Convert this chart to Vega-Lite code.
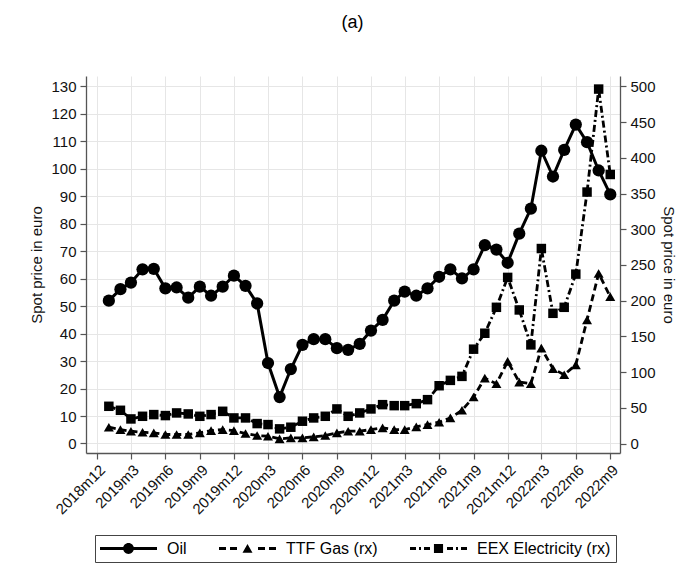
{
  "$schema": "https://vega.github.io/schema/vega-lite/v6.json",
  "width": 534,
  "height": 377,
  "padding": {"left": 29, "top": 14, "right": 1, "bottom": 5},
  "background": "white",
  "title": {"text": "(a)", "fontSize": 18, "fontWeight": "normal", "font": "Liberation Sans", "color": "black", "anchor": "middle", "frame": "bounds", "offset": 44},
  "config": {
    "view": {"stroke": null},
    "font": "Liberation Sans",
    "axis": {
      "labelFont": "Liberation Sans", "labelFontSize": 15, "labelColor": "#111",
      "titleFont": "Liberation Sans", "titleFontSize": 15, "titleFontWeight": "normal", "titleColor": "#111",
      "domainColor": "#555", "domainWidth": 1.3, "tickColor": "#555", "tickWidth": 1.2, "tickSize": 6, "labelPadding": 4,
      "gridColor": "#e6e6e6", "gridWidth": 1
    }
  },
  "data": {"values": [
    {"date":"2019-01-01","series":"Oil","price":52.0},{"date":"2019-02-01","series":"Oil","price":56.2},{"date":"2019-03-01","series":"Oil","price":58.6},{"date":"2019-04-01","series":"Oil","price":63.4},{"date":"2019-05-01","series":"Oil","price":63.6},{"date":"2019-06-01","series":"Oil","price":56.5},{"date":"2019-07-01","series":"Oil","price":56.8},{"date":"2019-08-01","series":"Oil","price":53.1},{"date":"2019-09-01","series":"Oil","price":57.1},{"date":"2019-10-01","series":"Oil","price":53.8},{"date":"2019-11-01","series":"Oil","price":57.1},{"date":"2019-12-01","series":"Oil","price":61.1},
    {"date":"2020-01-01","series":"Oil","price":57.4},{"date":"2020-02-01","series":"Oil","price":51.0},{"date":"2020-03-01","series":"Oil","price":29.3},{"date":"2020-04-01","series":"Oil","price":16.9},{"date":"2020-05-01","series":"Oil","price":27.1},{"date":"2020-06-01","series":"Oil","price":35.9},{"date":"2020-07-01","series":"Oil","price":38.0},{"date":"2020-08-01","series":"Oil","price":38.0},{"date":"2020-09-01","series":"Oil","price":34.7},{"date":"2020-10-01","series":"Oil","price":34.1},{"date":"2020-11-01","series":"Oil","price":36.3},{"date":"2020-12-01","series":"Oil","price":41.1},
    {"date":"2021-01-01","series":"Oil","price":45.0},{"date":"2021-02-01","series":"Oil","price":52.0},{"date":"2021-03-01","series":"Oil","price":55.3},{"date":"2021-04-01","series":"Oil","price":53.8},{"date":"2021-05-01","series":"Oil","price":56.5},{"date":"2021-06-01","series":"Oil","price":60.7},{"date":"2021-07-01","series":"Oil","price":63.4},{"date":"2021-08-01","series":"Oil","price":60.1},{"date":"2021-09-01","series":"Oil","price":63.4},{"date":"2021-10-01","series":"Oil","price":72.2},{"date":"2021-11-01","series":"Oil","price":70.6},{"date":"2021-12-01","series":"Oil","price":65.8},
    {"date":"2022-01-01","series":"Oil","price":76.4},{"date":"2022-02-01","series":"Oil","price":85.5},{"date":"2022-03-01","series":"Oil","price":106.6},{"date":"2022-04-01","series":"Oil","price":97.2},{"date":"2022-05-01","series":"Oil","price":106.9},{"date":"2022-06-01","series":"Oil","price":116.1},{"date":"2022-07-01","series":"Oil","price":109.7},{"date":"2022-08-01","series":"Oil","price":99.4},{"date":"2022-09-01","series":"Oil","price":90.7},
    {"date":"2019-01-01","series":"TTF Gas (rx)","price":22.8},{"date":"2019-02-01","series":"TTF Gas (rx)","price":19.5},{"date":"2019-03-01","series":"TTF Gas (rx)","price":17.2},{"date":"2019-04-01","series":"TTF Gas (rx)","price":15.8},{"date":"2019-05-01","series":"TTF Gas (rx)","price":14.9},{"date":"2019-06-01","series":"TTF Gas (rx)","price":12.6},{"date":"2019-07-01","series":"TTF Gas (rx)","price":12.6},{"date":"2019-08-01","series":"TTF Gas (rx)","price":12.6},{"date":"2019-09-01","series":"TTF Gas (rx)","price":14.9},{"date":"2019-10-01","series":"TTF Gas (rx)","price":18.1},{"date":"2019-11-01","series":"TTF Gas (rx)","price":19.5},{"date":"2019-12-01","series":"TTF Gas (rx)","price":18.1},
    {"date":"2020-01-01","series":"TTF Gas (rx)","price":14.0},{"date":"2020-02-01","series":"TTF Gas (rx)","price":11.2},{"date":"2020-03-01","series":"TTF Gas (rx)","price":10.2},{"date":"2020-04-01","series":"TTF Gas (rx)","price":6.5},{"date":"2020-05-01","series":"TTF Gas (rx)","price":7.9},{"date":"2020-06-01","series":"TTF Gas (rx)","price":7.9},{"date":"2020-07-01","series":"TTF Gas (rx)","price":9.3},{"date":"2020-08-01","series":"TTF Gas (rx)","price":11.2},{"date":"2020-09-01","series":"TTF Gas (rx)","price":14.9},{"date":"2020-10-01","series":"TTF Gas (rx)","price":17.2},{"date":"2020-11-01","series":"TTF Gas (rx)","price":17.2},{"date":"2020-12-01","series":"TTF Gas (rx)","price":19.5},
    {"date":"2021-01-01","series":"TTF Gas (rx)","price":21.9},{"date":"2021-02-01","series":"TTF Gas (rx)","price":19.5},{"date":"2021-03-01","series":"TTF Gas (rx)","price":19.5},{"date":"2021-04-01","series":"TTF Gas (rx)","price":23.3},{"date":"2021-05-01","series":"TTF Gas (rx)","price":26.5},{"date":"2021-06-01","series":"TTF Gas (rx)","price":29.8},{"date":"2021-07-01","series":"TTF Gas (rx)","price":35.8},{"date":"2021-08-01","series":"TTF Gas (rx)","price":46.5},{"date":"2021-09-01","series":"TTF Gas (rx)","price":65.1},{"date":"2021-10-01","series":"TTF Gas (rx)","price":91.6},{"date":"2021-11-01","series":"TTF Gas (rx)","price":83.7},{"date":"2021-12-01","series":"TTF Gas (rx)","price":114.9},
    {"date":"2022-01-01","series":"TTF Gas (rx)","price":86.0},{"date":"2022-02-01","series":"TTF Gas (rx)","price":83.7},{"date":"2022-03-01","series":"TTF Gas (rx)","price":133.5},{"date":"2022-04-01","series":"TTF Gas (rx)","price":104.7},{"date":"2022-05-01","series":"TTF Gas (rx)","price":96.3},{"date":"2022-06-01","series":"TTF Gas (rx)","price":110.2},{"date":"2022-07-01","series":"TTF Gas (rx)","price":173.0},{"date":"2022-08-01","series":"TTF Gas (rx)","price":238.1},{"date":"2022-09-01","series":"TTF Gas (rx)","price":205.6},
    {"date":"2019-01-01","series":"EEX Electricity (rx)","price":52.1},{"date":"2019-02-01","series":"EEX Electricity (rx)","price":46.5},{"date":"2019-03-01","series":"EEX Electricity (rx)","price":34.4},{"date":"2019-04-01","series":"EEX Electricity (rx)","price":38.1},{"date":"2019-05-01","series":"EEX Electricity (rx)","price":40.5},{"date":"2019-06-01","series":"EEX Electricity (rx)","price":39.1},{"date":"2019-07-01","series":"EEX Electricity (rx)","price":42.8},{"date":"2019-08-01","series":"EEX Electricity (rx)","price":41.4},{"date":"2019-09-01","series":"EEX Electricity (rx)","price":38.1},{"date":"2019-10-01","series":"EEX Electricity (rx)","price":40.5},{"date":"2019-11-01","series":"EEX Electricity (rx)","price":45.1},{"date":"2019-12-01","series":"EEX Electricity (rx)","price":35.8},
    {"date":"2020-01-01","series":"EEX Electricity (rx)","price":35.8},{"date":"2020-02-01","series":"EEX Electricity (rx)","price":27.9},{"date":"2020-03-01","series":"EEX Electricity (rx)","price":26.5},{"date":"2020-04-01","series":"EEX Electricity (rx)","price":20.5},{"date":"2020-05-01","series":"EEX Electricity (rx)","price":22.8},{"date":"2020-06-01","series":"EEX Electricity (rx)","price":31.2},{"date":"2020-07-01","series":"EEX Electricity (rx)","price":35.8},{"date":"2020-08-01","series":"EEX Electricity (rx)","price":38.1},{"date":"2020-09-01","series":"EEX Electricity (rx)","price":48.4},{"date":"2020-10-01","series":"EEX Electricity (rx)","price":38.1},{"date":"2020-11-01","series":"EEX Electricity (rx)","price":42.8},{"date":"2020-12-01","series":"EEX Electricity (rx)","price":48.4},
    {"date":"2021-01-01","series":"EEX Electricity (rx)","price":54.4},{"date":"2021-02-01","series":"EEX Electricity (rx)","price":53.0},{"date":"2021-03-01","series":"EEX Electricity (rx)","price":53.0},{"date":"2021-04-01","series":"EEX Electricity (rx)","price":55.8},{"date":"2021-05-01","series":"EEX Electricity (rx)","price":61.4},{"date":"2021-06-01","series":"EEX Electricity (rx)","price":80.9},{"date":"2021-07-01","series":"EEX Electricity (rx)","price":88.4},{"date":"2021-08-01","series":"EEX Electricity (rx)","price":94.0},{"date":"2021-09-01","series":"EEX Electricity (rx)","price":132.1},{"date":"2021-10-01","series":"EEX Electricity (rx)","price":154.4},{"date":"2021-11-01","series":"EEX Electricity (rx)","price":190.7},{"date":"2021-12-01","series":"EEX Electricity (rx)","price":232.6},
    {"date":"2022-01-01","series":"EEX Electricity (rx)","price":187.0},{"date":"2022-02-01","series":"EEX Electricity (rx)","price":138.1},{"date":"2022-03-01","series":"EEX Electricity (rx)","price":273.0},{"date":"2022-04-01","series":"EEX Electricity (rx)","price":182.3},{"date":"2022-05-01","series":"EEX Electricity (rx)","price":190.7},{"date":"2022-06-01","series":"EEX Electricity (rx)","price":237.2},{"date":"2022-07-01","series":"EEX Electricity (rx)","price":352.1},{"date":"2022-08-01","series":"EEX Electricity (rx)","price":496.3},{"date":"2022-09-01","series":"EEX Electricity (rx)","price":376.7}
  ]},
  "encoding": {
    "x": {
      "field": "date", "type": "temporal",
      "scale": {"type": "utc", "domain": [{"year": 2018, "month": 11, "date": 1, "utc": true}, {"year": 2022, "month": 9, "date": 27, "utc": true}]},
      "axis": {
        "title": null, "grid": true, "labelAngle": -45, "labelPadding": 3, "labelOverlap": false,
        "values": [
          {"year": 2018, "month": 12, "date": 1, "utc": true},
          {"year": 2019, "month": 3, "date": 1, "utc": true},
          {"year": 2019, "month": 6, "date": 1, "utc": true},
          {"year": 2019, "month": 9, "date": 1, "utc": true},
          {"year": 2019, "month": 12, "date": 1, "utc": true},
          {"year": 2020, "month": 3, "date": 1, "utc": true},
          {"year": 2020, "month": 6, "date": 1, "utc": true},
          {"year": 2020, "month": 9, "date": 1, "utc": true},
          {"year": 2020, "month": 12, "date": 1, "utc": true},
          {"year": 2021, "month": 3, "date": 1, "utc": true},
          {"year": 2021, "month": 6, "date": 1, "utc": true},
          {"year": 2021, "month": 9, "date": 1, "utc": true},
          {"year": 2021, "month": 12, "date": 1, "utc": true},
          {"year": 2022, "month": 3, "date": 1, "utc": true},
          {"year": 2022, "month": 6, "date": 1, "utc": true},
          {"year": 2022, "month": 9, "date": 1, "utc": true}
        ],
        "labelExpr": "utcFormat(datum.value, '%Y') + 'm' + (utcmonth(datum.value) + 1)"
      }
    }
  },
  "layer": [
    {
      "transform": [{"filter": "datum.series == 'Oil'"}],
      "encoding": {
        "y": {
          "field": "price", "type": "quantitative",
          "scale": {"domain": [-3.46, 133.8], "nice": false, "zero": false},
          "axis": {"orient": "left", "title": "Spot price in euro", "grid": true, "titlePadding": 6,
                   "values": [0,10,20,30,40,50,60,70,80,90,100,110,120,130]}
        }
      },
      "layer": [
        {"mark": {"type": "line", "color": "black", "strokeWidth": 3}},
        {"mark": {"type": "point", "shape": "circle", "filled": true, "color": "black", "opacity": 1, "size": 150}}
      ]
    },
    {
      "transform": [{"filter": "datum.series != 'Oil'"}],
      "encoding": {
        "y": {
          "field": "price", "type": "quantitative",
          "scale": {"domain": [-13.3, 514.6], "nice": false, "zero": false},
          "axis": {"orient": "right", "title": "Spot price in euro", "grid": false, "titlePadding": 5,
                   "values": [0,50,100,150,200,250,300,350,400,450,500]}
        }
      },
      "layer": [
        {"mark": {"type": "line", "color": "black", "strokeWidth": 2.8},
         "encoding": {"strokeDash": {"field": "series", "type": "nominal",
           "scale": {"domain": ["TTF Gas (rx)", "EEX Electricity (rx)"], "range": [[7, 4], [7, 3, 2, 3]]}, "legend": null}}},
        {"mark": {"type": "point", "filled": true, "color": "black", "opacity": 1},
         "encoding": {
           "shape": {"field": "series", "type": "nominal", "scale": {"domain": ["TTF Gas (rx)", "EEX Electricity (rx)"], "range": ["triangle-up", "square"]}, "legend": null},
           "size": {"field": "series", "type": "nominal", "scale": {"domain": ["TTF Gas (rx)", "EEX Electricity (rx)"], "range": [100, 90]}, "legend": null}
         }}
      ]
    },
    {
      "transform": [{"filter": "datum.series == 'none'"}],
      "mark": {"type": "point", "filled": true, "color": "black", "opacity": 1},
      "encoding": {
        "y": {"field": "price", "type": "quantitative", "axis": null},
        "shape": {"field": "series", "type": "nominal",
          "scale": {"domain": ["Oil", "TTF Gas (rx)", "EEX Electricity (rx)"],
                    "range": ["M-1,-0.05L1,-0.05L1,0.05L-1,0.05ZM0.19,0A0.19,0.19,0,1,1,-0.19,0A0.19,0.19,0,1,1,0.19,0Z",
                              "M-1,-0.05L-0.754,-0.05L-0.754,0.05L-1,0.05ZM-0.614,-0.05L-0.368,-0.05L-0.368,0.05L-0.614,0.05ZM0.368,-0.05L0.614,-0.05L0.614,0.05L0.368,0.05ZM0.754,-0.05L1,-0.05L1,0.05L0.754,0.05ZM-0.175,0.15L0,-0.16L0.175,0.15Z",
                              "M-1,-0.05L-0.789,-0.05L-0.789,0.05L-1,0.05ZM-0.684,-0.05L-0.614,-0.05L-0.614,0.05L-0.684,0.05ZM-0.509,-0.05L-0.298,-0.05L-0.298,0.05L-0.509,0.05ZM0.298,-0.05L0.509,-0.05L0.509,0.05L0.298,0.05ZM0.614,-0.05L0.684,-0.05L0.684,0.05L0.614,0.05ZM0.789,-0.05L1,-0.05L1,0.05L0.789,0.05ZM-0.16,-0.16L0.16,-0.16L0.16,0.16L-0.16,0.16Z"]},
          "legend": {"title": null, "orient": "none", "legendX": 9, "legendY": 459, "direction": "horizontal",
                     "strokeColor": "#444", "padding": 5, "symbolSize": 3249, "clipHeight": 17,
                     "labelOffset": 10, "columnPadding": 32, "labelFontSize": 16, "labelFont": "Liberation Sans", "labelColor": "black",
                     "symbolFillColor": "black", "symbolStrokeWidth": 0}}
      }
    }
  ],
  "resolve": {"scale": {"y": "independent", "shape": "independent", "strokeDash": "independent", "size": "independent"}, "axis": {"y": "independent"}}
}
